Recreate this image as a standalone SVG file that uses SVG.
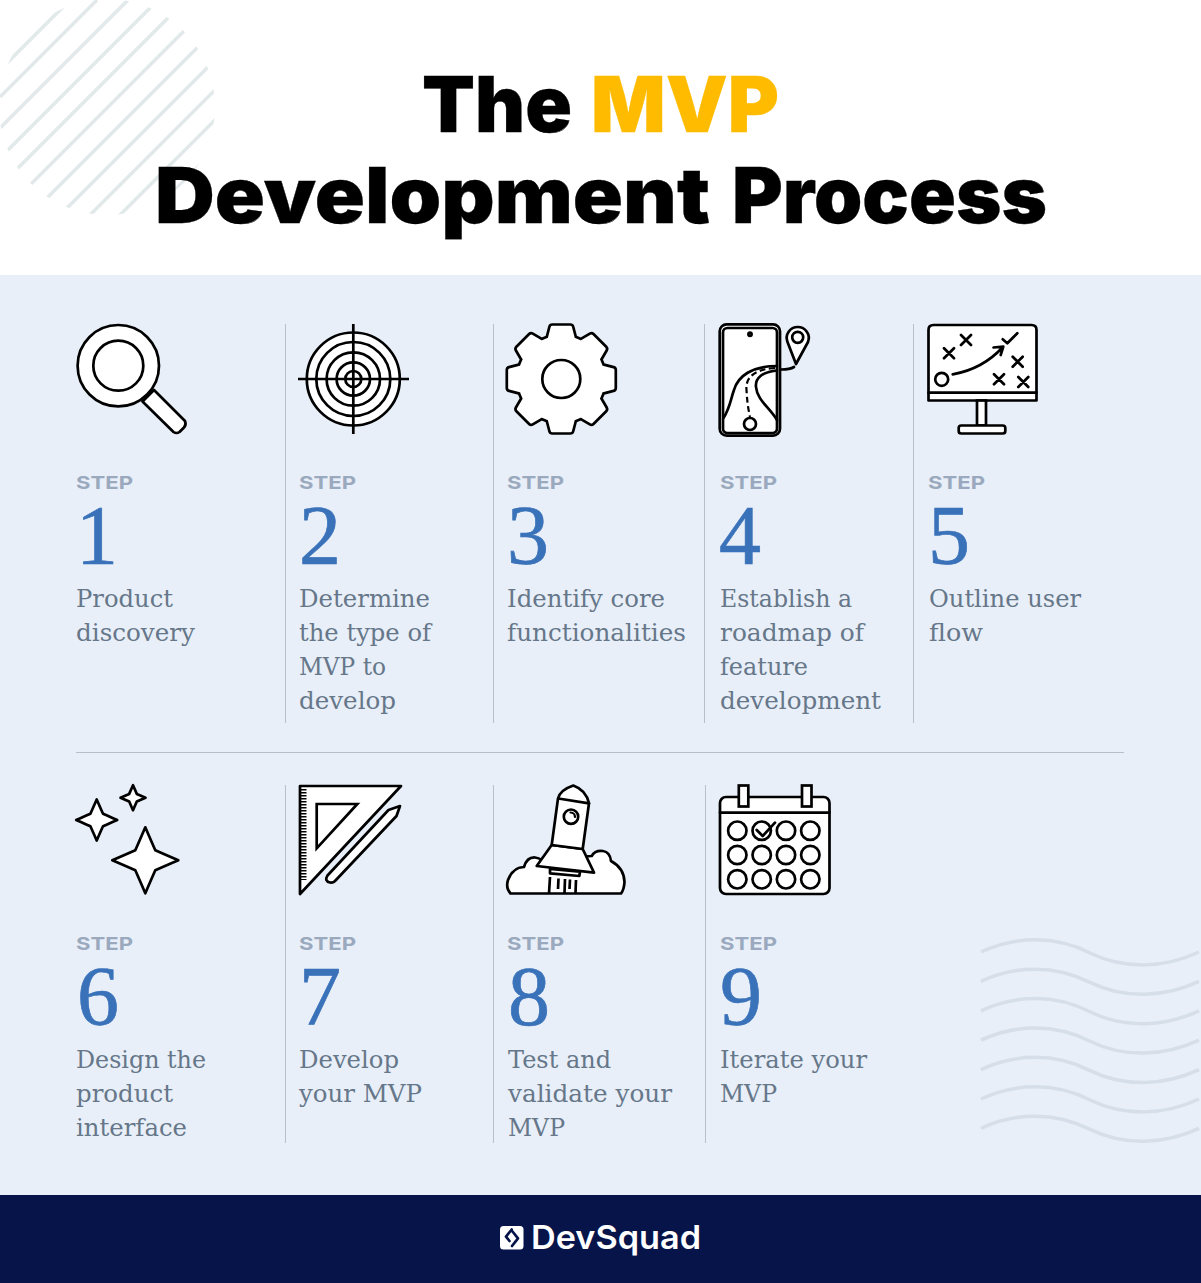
<svg xmlns="http://www.w3.org/2000/svg" width="1201" height="1283" viewBox="0 0 1201 1283">
<style>
.ic{fill:#fff;stroke:#000;stroke-width:2.7;stroke-linejoin:round;stroke-linecap:round}
.ln{fill:none;stroke:#000;stroke-width:2.7;stroke-linejoin:round;stroke-linecap:round}
.t2{stroke-width:2.2}
.step{font-family:Inter,"Liberation Sans",sans-serif;font-weight:700;font-size:18px;fill:#9aa9bd}
.num{font-family:"Liberation Serif",serif;font-size:84px;fill:#3a72ba;stroke:#3a72ba;stroke-width:.7}
.body{font-family:"DejaVu Serif","Liberation Serif",serif;font-size:25px;fill:#66778a}
.title{font-family:Inter,"Liberation Sans",sans-serif;font-weight:900;font-size:77px;fill:#000;stroke:#000;stroke-width:.3}
.div{stroke:#b8bfca;stroke-width:1;fill:none}
.st{stroke:#e2e9ea;stroke-width:3.6;fill:none}
.wv{stroke:#d6dee9;stroke-width:3.5;fill:none}
</style>
<defs>
<clipPath id="cc"><circle cx="107" cy="107" r="108"/></clipPath>
<path id="w" d="M981 952C1015 936 1055 935 1090 953C1125 970 1165 968 1199 952"/>
</defs>
<rect width="1201" height="1283" fill="#fff"/>
<g id="stripes" clip-path="url(#cc)">
<path class="st" d="M70 0L0 70M97 0L0 97M128 0L0 128M158 0L0 158M186 0L0 186M215 0L0 215M245 0L0 245M275 0L0 275M305 0L0 305M335 0L0 335M365 0L0 365"/>
</g>
<rect y="275" width="1201" height="920" fill="#e8eff8"/>
<rect y="1195" width="1201" height="88" fill="#07144a"/>
<g id="title">
<text class="title" x="422" y="132" textLength="150" lengthAdjust="spacingAndGlyphs">The</text>
<text class="title" x="591" y="132" textLength="188" lengthAdjust="spacingAndGlyphs" style="fill:#ffbb00;stroke:#ffbb00">MVP</text>
<text class="title" x="155" y="222.5" textLength="555" lengthAdjust="spacingAndGlyphs">Development</text>
<text class="title" x="732" y="222.5" textLength="315" lengthAdjust="spacingAndGlyphs">Process</text>
</g>
<g id="waves">
<use href="#w" class="wv"/><use href="#w" class="wv" y="29.4"/><use href="#w" class="wv" y="58.8"/><use href="#w" class="wv" y="88.2"/><use href="#w" class="wv" y="117.6"/><use href="#w" class="wv" y="147"/><use href="#w" class="wv" y="176.4"/>
</g>
<g id="dividers">
<path class="div" d="M285.5 324V723M493.5 324V723M704.5 324V723M913.5 324V723M285.5 785V1143M493.5 785V1143M705.5 785V1143M76 752.5H1124"/>
</g>
<g id="step1">
<path class="ic" d="M154 390L185 421Q186.5 425 184 427.5L179.5 432Q176.5 434 173.5 432L142.5 401.5Z"/>
<circle class="ic" cx="118.3" cy="365.7" r="40.7"/><circle class="ln" cx="118.3" cy="365.7" r="25"/>
<text class="step" x="76" y="489" textLength="57" lengthAdjust="spacingAndGlyphs">STEP</text><text class="num" x="76" y="564">1</text>
<text class="body" x="76" y="606.5" textLength="97" lengthAdjust="spacingAndGlyphs">Product</text>
<text class="body" x="76" y="640.5" textLength="119" lengthAdjust="spacingAndGlyphs">discovery</text>
</g>
<g id="step2">
<circle class="ic" cx="353.3" cy="379" r="46.5"/>
<circle class="ln" cx="353.3" cy="379" r="37"/><circle class="ln" cx="353.3" cy="379" r="26.7"/><circle class="ln" cx="353.3" cy="379" r="16.7"/><circle class="ln" cx="353.3" cy="379" r="8"/>
<path class="ln" d="M298 379H409M353.3 324V434" style="stroke-linecap:butt"/>
<text class="step" x="299" y="489" textLength="57" lengthAdjust="spacingAndGlyphs">STEP</text><text class="num" x="299" y="564">2</text>
<text class="body" x="299" y="606.5" textLength="131" lengthAdjust="spacingAndGlyphs">Determine</text>
<text class="body" x="299" y="640.5" textLength="132" lengthAdjust="spacingAndGlyphs">the type of</text>
<text class="body" x="299" y="674.5" textLength="87" lengthAdjust="spacingAndGlyphs">MVP to</text>
<text class="body" x="299" y="708.5" textLength="97" lengthAdjust="spacingAndGlyphs">develop</text>
</g>
<g id="step3">
<g transform="translate(561.3 379)">
<path fill="#fff" stroke="#000" stroke-width="8.7" stroke-linejoin="round" d="M-12-40L-9-51.5H9L12-40L19.8-36.8L30.05-42.8L42.8-30.05L36.8-19.8L40-12L51.5-9V9L40 12L36.8 19.8L42.8 30.05L30.05 42.8L19.8 36.8L12 40L9 51.5H-9L-12 40L-19.8 36.8L-30.05 42.8L-42.8 30.05L-36.8 19.8L-40 12L-51.5 9V-9L-40-12L-36.8-19.8L-42.8-30.05L-30.05-42.8L-19.8-36.8Z"/>
<path fill="#fff" stroke="#fff" stroke-width="3.3" stroke-linejoin="round" d="M-12-40L-9-51.5H9L12-40L19.8-36.8L30.05-42.8L42.8-30.05L36.8-19.8L40-12L51.5-9V9L40 12L36.8 19.8L42.8 30.05L30.05 42.8L19.8 36.8L12 40L9 51.5H-9L-12 40L-19.8 36.8L-30.05 42.8L-42.8 30.05L-36.8 19.8L-40 12L-51.5 9V-9L-40-12L-36.8-19.8L-42.8-30.05L-30.05-42.8L-19.8-36.8Z"/>
</g>
<circle class="ln" cx="561.3" cy="379" r="19"/>
<text class="step" x="507" y="489" textLength="57" lengthAdjust="spacingAndGlyphs">STEP</text><text class="num" x="507" y="564">3</text>
<text class="body" x="507" y="606.5" textLength="158" lengthAdjust="spacingAndGlyphs">Identify core</text>
<text class="body" x="507" y="640.5" textLength="179" lengthAdjust="spacingAndGlyphs">functionalities</text>
</g>
<g id="step4">
<path class="ln" d="M781 369.5Q790 369.5 794 367"/>
<path class="ic" d="M796 364L787.5 342A11 11 0 1 1 808 342Z"/>
<circle class="ln" cx="797.7" cy="337.3" r="5.5"/>
<rect class="ic" x="719.7" y="324.3" width="60.3" height="111.4" rx="7"/>
<rect class="ln" x="723" y="328" width="54" height="105" rx="4.5"/>
<circle class="ln" cx="750" cy="334.3" r="1.6"/>
<path class="ln" d="M723.5 418C730 408 731 398 734 390C738 376 752 366 777 366M777 370.5C762 372 755 378 756 387C757 400 770 408 777 420"/>
<path class="ln t2" d="M775 368C757 369 745 376 746.5 390C747 400 748 408 750 417" stroke-dasharray="6 3.5" style="stroke-linecap:butt"/>
<circle class="ic" cx="750" cy="424" r="6"/>
<text class="step" x="720" y="489" textLength="57" lengthAdjust="spacingAndGlyphs">STEP</text><text class="num" x="719" y="564">4</text>
<text class="body" x="720" y="606.5" textLength="132" lengthAdjust="spacingAndGlyphs">Establish a</text>
<text class="body" x="720" y="640.5" textLength="144" lengthAdjust="spacingAndGlyphs">roadmap of</text>
<text class="body" x="720" y="674.5" textLength="88" lengthAdjust="spacingAndGlyphs">feature</text>
<text class="body" x="720" y="708.5" textLength="161" lengthAdjust="spacingAndGlyphs">development</text>
</g>
<g id="step5">
<path class="ic" d="M928.5 330Q928.5 325 933.5 325H1031.5Q1036.5 325 1036.5 330V400.5H928.5Z"/>
<path class="ln" d="M928.5 392.7H1036.5"/>
<rect class="ic" x="977" y="400.5" width="9" height="25" style="stroke-linejoin:miter"/>
<rect class="ic" x="958.7" y="425.5" width="46.6" height="8" rx="2.5"/>
<circle class="ln" cx="941.7" cy="379.3" r="6.5"/>
<path class="ln" d="M952.7 374.3C972 371 990 361 1003 347M993.5 347.5L1003.3 346.7L1000.7 355"/>
<path class="ln" d="M944 348.3L954 358.3M954 348.3L944 358.3M961 335L971 345M971 335L961 345M1012.7 356.7L1022.7 366.7M1022.7 356.7L1012.7 366.7M994 374.3L1004 384.3M1004 374.3L994 384.3M1018.3 377L1028.3 387M1028.3 377L1018.3 387M1002.7 339.3L1007.3 343.3L1017.3 333.3"/>
<text class="step" x="928" y="489" textLength="57" lengthAdjust="spacingAndGlyphs">STEP</text><text class="num" x="928" y="564">5</text>
<text class="body" x="929" y="606.5" textLength="152" lengthAdjust="spacingAndGlyphs">Outline user</text>
<text class="body" x="929" y="640.5" textLength="54" lengthAdjust="spacingAndGlyphs">flow</text>
</g>
<g id="step6">
<path class="ic" transform="translate(96.7 820)" d="M0-20.5Q3.8-11.8 6.3-6.3Q11.8-3.8 20.5 0Q11.8 3.8 6.3 6.3Q3.8 11.8 0 20.5Q-3.8 11.8-6.3 6.3Q-11.8 3.8-20.5 0Q-11.8-3.8-6.3-6.3Q-3.8-11.8 0-20.5Z"/>
<path class="ic" transform="translate(133 797.7)" d="M0-12.5Q2.3-7.2 3.8-3.8Q7.2-2.3 12.5 0Q7.2 2.3 3.8 3.8Q2.3 7.2 0 12.5Q-2.3 7.2-3.8 3.8Q-7.2 2.3-12.5 0Q-7.2-2.3-3.8-3.8Q-2.3-7.2 0-12.5Z"/>
<path class="ic" transform="translate(145.3 860.3)" d="M0-33Q6-19 10-10Q19-6 33 0Q19 6 10 10Q6 19 0 33Q-6 19-10 10Q-19 6-33 0Q-19-6-10-10Q-6-19 0-33Z"/>
<text class="step" x="76" y="950" textLength="57" lengthAdjust="spacingAndGlyphs">STEP</text><text class="num" x="77" y="1025">6</text>
<text class="body" x="76" y="1067.5" textLength="130" lengthAdjust="spacingAndGlyphs">Design the</text>
<text class="body" x="76" y="1101.5" textLength="97" lengthAdjust="spacingAndGlyphs">product</text>
<text class="body" x="76" y="1135.5" textLength="111" lengthAdjust="spacingAndGlyphs">interface</text>
</g>
<g id="step7">
<path class="ic" d="M300 786H401L300 894Z"/>
<path class="ln" d="M316.7 804H357.3L316.7 848.3Z" style="stroke-linejoin:miter"/>
<path d="M303 789V880" fill="none" stroke="#000" stroke-width="7" stroke-dasharray="1.5 1.5"/>
<path class="ic" d="M400 806L388.5 810L327.5 875.5Q324 881 330 882.5Q333 883 335 881L396.5 816Z"/>
<text class="step" x="299" y="950" textLength="57" lengthAdjust="spacingAndGlyphs">STEP</text><text class="num" x="299" y="1025">7</text>
<text class="body" x="299" y="1067.5" textLength="100" lengthAdjust="spacingAndGlyphs">Develop</text>
<text class="body" x="299" y="1101.5" textLength="123" lengthAdjust="spacingAndGlyphs">your MVP</text>
</g>
<g id="step8">
<path class="ic" d="M510.5 893.5Q505.5 888 508 880Q513 867 524 867Q527 857 535 857.5Q539 858 541.7 860L591.7 856Q595 850 603 851Q610 852 611 861Q624 868 624.5 882Q624 890 621 893.5Z"/>
<path class="ic" d="M551.7 845L536.7 866L594 872.7L582.7 849Z"/>
<path class="ic" d="M551.7 845L558 798.5Q560 790 573.3 785.5Q586 790 589 803.3L582.7 849Z"/>
<path class="ln" d="M558.3 798.5L589 803.3"/>
<circle class="ln" cx="571" cy="816.7" r="7.2"/>
<path class="ln t2" d="M570.5 812.5A4.5 4.5 0 0 1 575 817"/>
<path class="ic" d="M550 869L580 871.7L579.3 876L550 873.3Z"/>
<path class="ln" d="M550 877L549 893.5M558.5 878.5L558 889M565 879L564.5 893M570 879.5L569.5 889M576 880L575.5 893" style="stroke-linecap:butt"/>
<text class="step" x="507" y="950" textLength="57" lengthAdjust="spacingAndGlyphs">STEP</text><text class="num" x="508" y="1025">8</text>
<text class="body" x="508" y="1067.5" textLength="103" lengthAdjust="spacingAndGlyphs">Test and</text>
<text class="body" x="508" y="1101.5" textLength="164" lengthAdjust="spacingAndGlyphs">validate your</text>
<text class="body" x="508" y="1135.5" textLength="57" lengthAdjust="spacingAndGlyphs">MVP</text>
</g>
<g id="step9">
<rect class="ic" x="720" y="797" width="109.5" height="97" rx="6"/>
<path class="ln" d="M720 812.7H829.5"/>
<rect class="ic" x="738.8" y="785.5" width="9.5" height="21" style="stroke-linejoin:miter"/>
<rect class="ic" x="802" y="785.5" width="9.5" height="21" style="stroke-linejoin:miter"/>
<g class="ln"><circle cx="737.3" cy="830.7" r="9.2"/><circle cx="761.7" cy="830.7" r="9.2"/><circle cx="786" cy="830.7" r="9.2"/><circle cx="810.3" cy="830.7" r="9.2"/><circle cx="737.3" cy="855" r="9.2"/><circle cx="761.7" cy="855" r="9.2"/><circle cx="786" cy="855" r="9.2"/><circle cx="810.3" cy="855" r="9.2"/><circle cx="737.3" cy="879.3" r="9.2"/><circle cx="761.7" cy="879.3" r="9.2"/><circle cx="786" cy="879.3" r="9.2"/><circle cx="810.3" cy="879.3" r="9.2"/><path d="M756.7 830L762.7 836L775 822.7"/></g>
<text class="step" x="720" y="950" textLength="57" lengthAdjust="spacingAndGlyphs">STEP</text><text class="num" x="720" y="1025">9</text>
<text class="body" x="720" y="1067.5" textLength="147" lengthAdjust="spacingAndGlyphs">Iterate your</text>
<text class="body" x="720" y="1101.5" textLength="57" lengthAdjust="spacingAndGlyphs">MVP</text>
</g>
<g id="logo">
<rect x="500" y="1226" width="23.5" height="23.5" rx="3.5" fill="#fff"/>
<path d="M511.7 1229.5L506 1236.7L509.5 1241M512.5 1231.5L518 1238.3L512 1246" fill="none" stroke="#07144a" stroke-width="2.7" stroke-linecap="round" stroke-linejoin="round"/>
<text x="531" y="1248.5" textLength="170" lengthAdjust="spacingAndGlyphs" font-family="Inter,'Liberation Sans',sans-serif" font-weight="600" font-size="33" fill="#fff">DevSquad</text>
</g>
</svg>
